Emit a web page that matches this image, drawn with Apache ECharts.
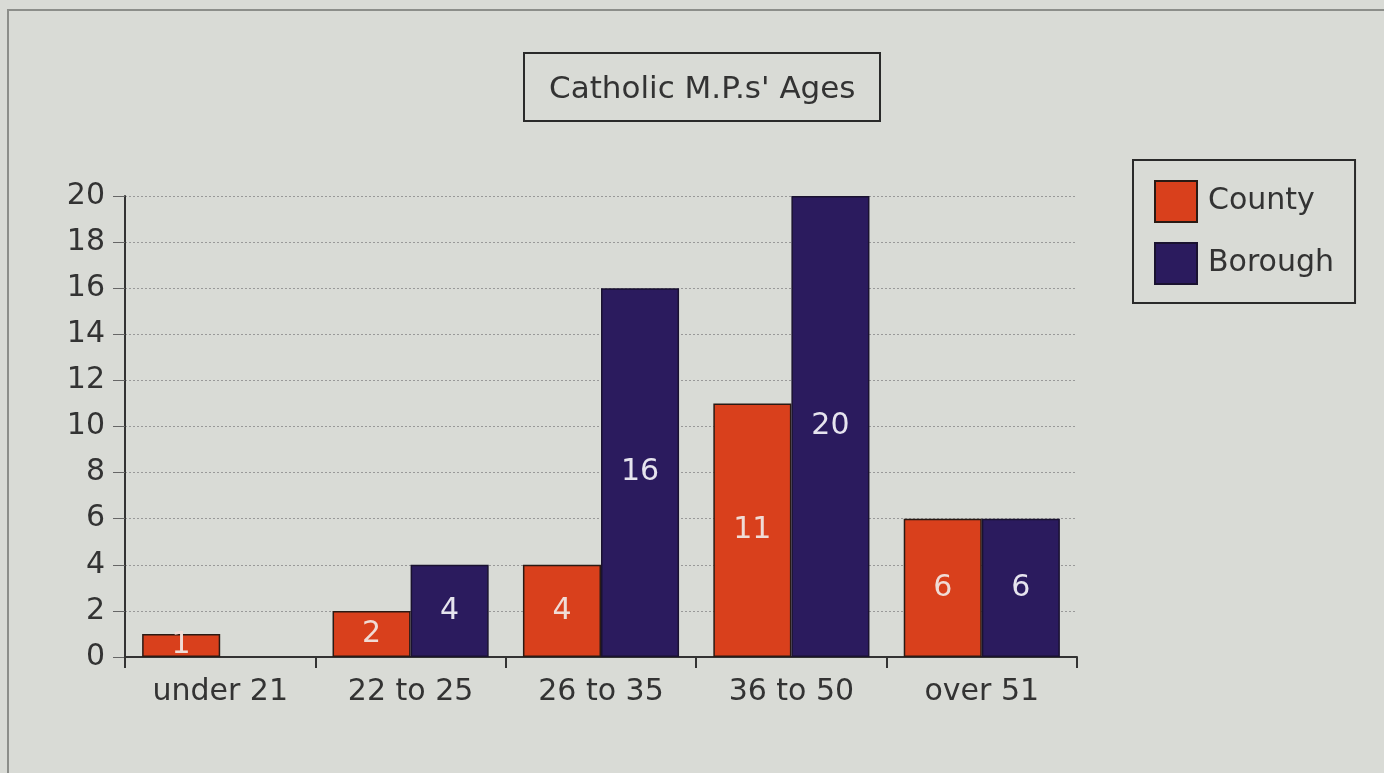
<!DOCTYPE html>
<html>
<head>
<meta charset="utf-8">
<script src="https://cdn.jsdelivr.net/npm/echarts@6/dist/echarts.min.js"></script>
<style>
    html, body { margin: 0; padding: 0; background: #d9dbd6; }
    #chart { width: 1384px; height: 773px; }
</style>
</head>
<body>
<div id="chart"></div>
<script>
// 数据
const categories = ['under 21', '22 to 25', '26 to 35', '36 to 50', 'over 51'];
const county = [1, 2, 4, 11, 6];
const borough = [0, 4, 16, 20, 6];
const yTicks = { min: 0, max: 20, interval: 2 };

const font = 'DejaVu Sans';
const chart = echarts.init(document.getElementById('chart'));

const option = {
    backgroundColor: '#d9dbd6',
    textStyle: { fontFamily: font },
    graphic: [
        {
            type: 'rect',
            shape: { x: 8, y: 10, width: 1400, height: 800 },
            style: { fill: 'none', stroke: '#8c8e8a', lineWidth: 2 },
            silent: true,
        },
    ],
    title: {
        text: "Catholic M.P.s' Ages",
        left: 524,
        top: 53,
        padding: [21, 25, 16, 25],
        borderColor: '#2a2a2a',
        borderWidth: 2,
        textStyle: {
            fontFamily: font,
            fontSize: 31,
            fontWeight: 'normal',
            color: '#333',
        },
    },
    legend: {
        orient: 'vertical',
        left: 1133,
        top: 160,
        padding: [20, 21, 18, 21],
        itemWidth: 42,
        itemHeight: 41,
        itemGap: 19,
        borderColor: '#2a2a2a',
        borderWidth: 2,
        icon: 'rect',
        textStyle: { fontFamily: font, fontSize: 30, color: '#333', padding: [0, 0, 0, 6] },
        data: ['County', 'Borough'],
    },
    grid: {
        left: 125,
        right: 307,
        top: 196,
        bottom: 116,
    },
    xAxis: {
        type: 'category',
        data: categories,
        axisLine: { lineStyle: { color: '#333', width: 2 } },
        axisTick: { show: true, length: 11, lineStyle: { color: '#333', width: 2 } },
        axisLabel: { fontSize: 30, color: '#333', margin: 20 },
    },
    yAxis: {
        type: 'value',
        min: yTicks.min,
        max: yTicks.max,
        interval: yTicks.interval,
        axisLine: { show: true, lineStyle: { color: '#333', width: 2 } },
        axisTick: { show: true, length: 12, lineStyle: { color: '#666', width: 1 } },
        axisLabel: { fontSize: 30, color: '#333', margin: 20 },
        splitLine: { lineStyle: { color: '#999', type: [2, 2], width: 1 } },
    },
    series: [
        {
            name: 'County',
            type: 'bar',
            data: county,
            barGap: '0%',
            barCategoryGap: '18%',
            itemStyle: { color: '#d9401c', borderColor: '#2a1a14', borderWidth: 1.5 },
            label: {
                show: true,
                position: 'inside',
                fontSize: 30,
                color: '#f0dcd6',
                fontFamily: font,
            },
        },
        {
            name: 'Borough',
            type: 'bar',
            // 0 不画柱子
            data: borough.map(v => (v === 0 ? '-' : v)),
            itemStyle: { color: '#2b1b5e', borderColor: '#1a1230', borderWidth: 1.5 },
            label: {
                show: true,
                position: 'inside',
                fontSize: 30,
                color: '#e6e4ee',
                fontFamily: font,
            },
        },
    ],
};

chart.setOption(option);
window.onresize = function () {
    chart.resize();
};
</script>
</body>
</html>
